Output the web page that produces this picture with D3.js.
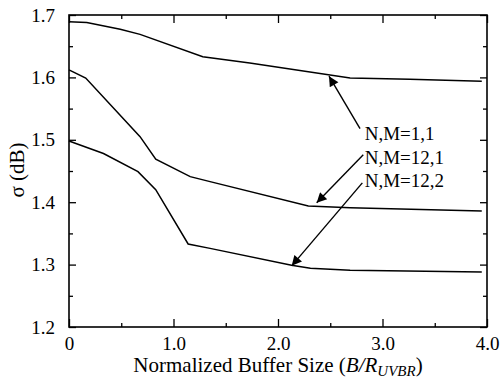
<!DOCTYPE html>
<html>
<head>
<meta charset="utf-8">
<script src="https://cdn.jsdelivr.net/npm/d3@7"></script>
<style>
  body { margin: 0; background: #fff; }
  svg text { font-family: "Liberation Serif", "DejaVu Serif", serif; fill: #000; }
</style>
</head>
<body>
<div id="chart"></div>
<script>
// series
var seriesNames = ['N,M=1,1', 'N,M=12,1', 'N,M=12,2'];

var xs11 = [0, 0.17, 0.49, 0.68, 1.28, 1.73, 2.69, 3.26, 3.95];
var ys11 = [1.689, 1.688, 1.677, 1.669, 1.633, 1.623, 1.599, 1.597, 1.594];

var xs121 = [0, 0.16, 0.68, 0.83, 1.16, 1.35, 2.29, 2.69, 3.95];
var ys121 = [1.612, 1.599, 1.505, 1.469, 1.441, 1.433, 1.394, 1.391, 1.386];

var xs122 = [0, 0.33, 0.66, 0.83, 1.14, 1.35, 2.13, 2.31, 2.69, 3.95];
var ys122 = [1.498, 1.478, 1.449, 1.42, 1.333, 1.326, 1.299, 1.294, 1.291, 1.288];

var xTicks = [0, 1, 2, 3, 4];
var xTickLabels = ['0', '1.0', '2.0', '3.0', '4.0'];
var yTicks = [1.2, 1.3, 1.4, 1.5, 1.6, 1.7];
var yTickLabels = ['1.2', '1.3', '1.4', '1.5', '1.6', '1.7'];

// arrow from label (start) to curve (tip), in data units
var arrowFrom = [[2.785, 1.518], [2.816, 1.476], [2.807, 1.431]];
var arrowTo = [[2.488, 1.602], [2.370, 1.399], [2.131, 1.298]];

var settings = {
  width: 502,
  height: 379,
  left: 69,
  right: 487,
  top: 15,
  bottom: 327
};

var x = d3.scaleLinear().domain([0, 4]).range([settings.left, settings.right]);
var y = d3.scaleLinear().domain([1.2, 1.7]).range([settings.bottom, settings.top]);

var svg = d3.select('#chart').append('svg')
  .attr('width', settings.width)
  .attr('height', settings.height);

svg.append('defs').append('marker')
  .attr('id', 'head')
  .attr('viewBox', '0 0 10 10')
  .attr('refX', 10)
  .attr('refY', 5)
  .attr('markerWidth', 13)
  .attr('markerHeight', 10)
  .attr('markerUnits', 'userSpaceOnUse')
  .attr('orient', 'auto')
  .append('path')
  .attr('d', 'M0,0 L10,5 L0,10 Z')
  .attr('fill', '#000');

// ticks pointing inward on all four sides
var tickStyle = function(g){
  g.select('.domain').remove();
  g.selectAll('line').attr('stroke', '#000').attr('stroke-width', 1.3);
  g.selectAll('text').style('font-size', '19px');
};

var minorX = d3.range(0.5, 4, 1);
var minorY = d3.range(1.25, 1.7, 0.1);

svg.append('g')
  .attr('transform', 'translate(0,' + settings.bottom + ')')
  .call(d3.axisBottom(x).tickValues(xTicks).tickSize(-8).tickPadding(10)
    .tickFormat(function(d, i){ return xTickLabels[i]; }))
  .call(tickStyle);
svg.append('g')
  .attr('transform', 'translate(0,' + settings.bottom + ')')
  .call(d3.axisBottom(x).tickValues(minorX).tickSize(-4).tickFormat(''))
  .call(tickStyle);
svg.append('g')
  .attr('transform', 'translate(0,' + settings.top + ')')
  .call(d3.axisTop(x).tickValues(xTicks).tickSize(-8).tickFormat(''))
  .call(tickStyle);
svg.append('g')
  .attr('transform', 'translate(0,' + settings.top + ')')
  .call(d3.axisTop(x).tickValues(minorX).tickSize(-4).tickFormat(''))
  .call(tickStyle);

svg.append('g')
  .attr('transform', 'translate(' + settings.left + ',0)')
  .call(d3.axisLeft(y).tickValues(yTicks).tickSize(-7).tickPadding(14)
    .tickFormat(function(d, i){ return yTickLabels[i]; }))
  .call(tickStyle);
svg.append('g')
  .attr('transform', 'translate(' + settings.left + ',0)')
  .call(d3.axisLeft(y).tickValues(minorY).tickSize(-4).tickFormat(''))
  .call(tickStyle);
svg.append('g')
  .attr('transform', 'translate(' + settings.right + ',0)')
  .call(d3.axisRight(y).tickValues(yTicks).tickSize(-7).tickFormat(''))
  .call(tickStyle);
svg.append('g')
  .attr('transform', 'translate(' + settings.right + ',0)')
  .call(d3.axisRight(y).tickValues(minorY).tickSize(-4).tickFormat(''))
  .call(tickStyle);

svg.append('rect')
  .attr('x', settings.left)
  .attr('y', settings.top)
  .attr('width', settings.right - settings.left)
  .attr('height', settings.bottom - settings.top)
  .attr('fill', 'none')
  .attr('stroke', '#000')
  .attr('stroke-width', 1.6);

var line = d3.line()
  .x(function(d){ return x(d[0]); })
  .y(function(d){ return y(d[1]); });

var allSeries = [[xs11, ys11], [xs121, ys121], [xs122, ys122]];

svg.append('g').selectAll('path')
  .data(allSeries)
  .enter().append('path')
  .attr('d', function(s){ return line(d3.zip(s[0], s[1])); })
  .attr('fill', 'none')
  .attr('stroke', '#000')
  .attr('stroke-width', 1.5);

// arrows and labels
svg.append('g').selectAll('line')
  .data(arrowFrom)
  .enter().append('line')
  .attr('x1', function(d){ return x(d[0]); })
  .attr('y1', function(d){ return y(d[1]); })
  .attr('x2', function(d, i){ return x(arrowTo[i][0]); })
  .attr('y2', function(d, i){ return y(arrowTo[i][1]); })
  .attr('stroke', '#000')
  .attr('stroke-width', 1.4)
  .attr('marker-end', 'url(#head)');

svg.append('g').selectAll('text')
  .data(seriesNames)
  .enter().append('text')
  .attr('x', x(2.83))
  .attr('y', function(d, i){ return 140 + i * 23.5; })
  .style('font-size', '19px')
  .text(function(d){ return d; });

// axis titles
var xt = svg.append('text')
  .attr('x', (settings.left + settings.right) / 2)
  .attr('y', 372)
  .attr('text-anchor', 'middle')
  .style('font-size', '21px');
xt.append('tspan').text('Normalized Buffer Size (');
xt.append('tspan').style('font-style', 'italic').text('B/R');
xt.append('tspan').attr('dy', 4).style('font-style', 'italic').style('font-size', '15px').text('UVBR');
xt.append('tspan').attr('dy', -4).text(')');

svg.append('text')
  .attr('transform', 'translate(24,170) rotate(-90)')
  .attr('text-anchor', 'middle')
  .style('font-size', '21px')
  .text('σ (dB)');
</script>
</body>
</html>
